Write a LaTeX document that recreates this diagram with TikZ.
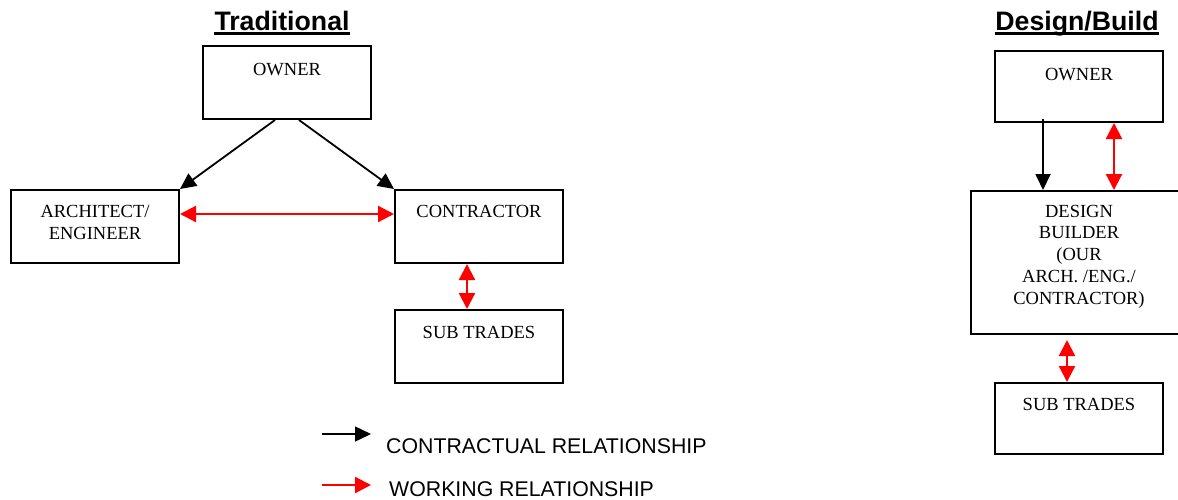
\documentclass[tikz,border=0pt]{standalone}
\usepackage{fontspec}
\setmainfont{Liberation Serif}
\setsansfont{Liberation Sans}
\usetikzlibrary{arrows.meta,positioning}
\tikzset
{
    box/.style      = {rectangle, draw=black, line width=2pt, minimum width=168pt, minimum height=73pt, inner sep=0pt},
    boxtext/.style  = {align=center, anchor=base, inner sep=0pt, font=\fontsize{18.5}{21.7}\selectfont},
    heading/.style  = {anchor=base, inner sep=0pt, font=\sffamily\bfseries\fontsize{26.7}{30}\selectfont},
    keytext/.style  = {anchor=base west, inner sep=0pt, font=\sffamily\fontsize{21.3}{24}\selectfont},
    contract/.style = {line width=1.8pt, ->, >={Triangle[length=16pt, width=15pt]}},
    working/.style  = {red, line width=2.2pt, <->, >={Triangle[length=16pt, width=16pt]}}
}

\begin{document}
\begin{tikzpicture}[x=1pt, y=-1pt]

   \path[use as bounding box, clip] (0,0) rectangle (1178,499);

   \newcommand\SIDEDX{12pt}

   % traditional
   \node (trad)   [heading]                                at (282, 30)                 {Traditional};
   \node (own1)   [box]                                    at (287, 82.5)               {};
   \node (arch)   [box]                                    at (95, 226.5)               {};
   \node (con)    [box]                                    at (479, 226.5)              {};
   \node (sub1)   [box]                                    at (479, 346.5)              {};

   %% base of a multi line node is its last line
   \node (own1t)  [boxtext]                                at ([yshift=-30pt]own1.north) {OWNER};
   \node (archt)  [boxtext]                                at ([yshift=-50pt]arch.north) {ARCHITECT/\\ENGINEER};
   \node (cont)   [boxtext]                                at ([yshift=-28pt]con.north)  {CONTRACTOR};
   \node (sub1t)  [boxtext]                                at ([yshift=-29pt]sub1.north) {SUB TRADES};

   % design/build
   \node (dbuild) [heading]                                at (1077, 30)                {Design/Build};
   \node (own2)   [box, minimum height=71pt]               at (1079, 86.5)              {};
   \node (des)    [box, minimum width=216pt, minimum height=143pt] at (1079, 262.5)    {};
   \node (sub2)   [box, minimum height=71pt]               at (1079, 418.5)             {};

   \node (own2t)  [boxtext]                                at ([yshift=-30pt]own2.north) {OWNER};
   \node (dest)   [boxtext]                                at ([yshift=-114pt]des.north) {DESIGN\\BUILDER\\(OUR\\ARCH. /ENG./\\CONTRACTOR)};
   \node (sub2t)  [boxtext]                                at ([yshift=-28pt]sub2.north) {SUB TRADES};

   \draw[line width=2.5pt] ([yshift=-3.5pt]trad.base west)   -- ([yshift=-3.5pt]trad.base east);
   \draw[line width=2.5pt] ([yshift=-3.5pt]dbuild.base west) -- ([yshift=-3.5pt]dbuild.base east);

   % key
   \coordinate (k1a) at (322, 434);
   \coordinate (k1b) at (371, 434);
   \coordinate (k2a) at (322, 485);
   \coordinate (k2b) at (371, 485);
   \node (k1t) [keytext] at (386, 453) {CONTRACTUAL RELATIONSHIP};
   \node (k2t) [keytext] at (389, 496) {WORKING RELATIONSHIP};

   \path
      ([xshift=-\SIDEDX]own1.south)   edge[contract]              (arch.north east)
      ([xshift= \SIDEDX]own1.south)   edge[contract]              (con.north west)
      ([yshift=12.5pt]arch.east)      edge[working]               ([yshift=12.5pt]con.west)
      ([xshift=-\SIDEDX]con.south)    edge[working]               ([xshift=-\SIDEDX]sub1.north)
      ([xshift=-36pt,yshift=4pt]own2.south) edge[contract]        ([xshift=-36pt]des.north)
      ([xshift=35pt]own2.south)       edge[working]               ([xshift=35pt]des.north)
      ([xshift=-\SIDEDX]des.south)    edge[working, shorten <=5pt] ([xshift=-\SIDEDX]sub2.north)
      (k1a)                           edge[contract, line width=1.4pt] (k1b)
      (k2a)                           edge[working, ->]           (k2b);
\end{tikzpicture}
\end{document}
